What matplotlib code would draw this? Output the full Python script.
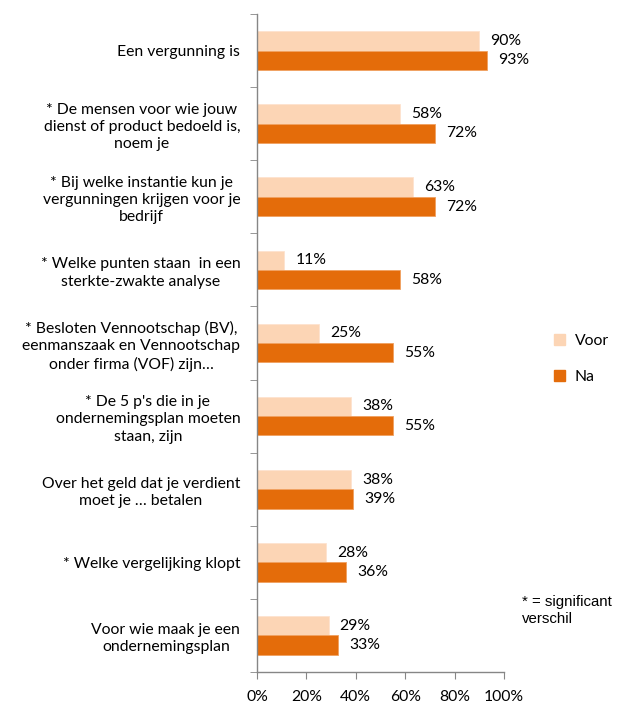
import matplotlib
matplotlib.use("Agg")
import matplotlib.pyplot as plt
import numpy as np
from matplotlib.patches import Patch

plt.rcParams['font.family'] = ['Lato', 'DejaVu Sans']

categories = [
    "Een vergunning is",
    "* De mensen voor wie jouw\ndienst of product bedoeld is,\nnoem je",
    "* Bij welke instantie kun je\nvergunningen krijgen voor je\nbedrijf",
    "* Welke punten staan  in een\nsterkte-zwakte analyse",
    "* Besloten Vennootschap (BV),\neenmanszaak en Vennootschap\nonder firma (VOF) zijn\u2026",
    "* De 5 p's die in je\nondernemingsplan moeten\nstaan, zijn",
    "Over het geld dat je verdient\nmoet je \u2026 betalen",
    "* Welke vergelijking klopt",
    "Voor wie maak je een\nondernemingsplan",
]
voor = [90, 58, 63, 11, 25, 38, 38, 28, 29]
na = [93, 72, 72, 58, 55, 55, 39, 36, 33]
series_names = ["Voor", "Na"]
xticks = [0, 20, 40, 60, 80, 100]

c_voor = "#FCD5B5"
c_na = "#E46C0A"
fs = 11.3

fig = plt.figure(figsize=(6.32, 7.04), dpi=100)
ax = fig.add_axes([0.4066, 0.0455, 0.3909, 0.9345])

y = np.arange(len(categories))
h = 0.265
ax.barh(y - h/2, voor, height=h, color=c_voor, edgecolor="#FDE3CF", linewidth=0.6)
ax.barh(y + h/2, na, height=h, color=c_na, edgecolor="#F0A060", linewidth=0.6)

for i in range(len(categories)):
    ax.annotate(f"{voor[i]}%", (voor[i], y[i] - h/2), xytext=(8, 0), textcoords="offset points",
                ha="left", va="center", fontsize=fs, color="#000000")
    ax.annotate(f"{na[i]}%", (na[i], y[i] + h/2), xytext=(8, 0), textcoords="offset points",
                ha="left", va="center", fontsize=fs, color="#000000")

ax.set_xlim(0, 100)
ax.set_ylim(len(categories) - 0.5, -0.5)
ax.set_xticks(xticks)
ax.set_xticklabels([f"{t}%" for t in xticks], fontsize=fs)
ax.set_yticks(y)
ax.set_yticklabels(categories, fontsize=fs, multialignment="center", linespacing=1.3)
ax.tick_params(axis="y", length=0, pad=12)
ax.set_yticks(np.arange(-0.5, len(categories), 1.0), minor=True)
ax.tick_params(axis="y", which="minor", length=5, color="#868686", direction="out")
ax.tick_params(axis="x", length=5, color="#868686", direction="out", pad=8)

for s in ["top", "right"]:
    ax.spines[s].set_visible(False)
for s in ["left", "bottom"]:
    ax.spines[s].set_color("#868686")
    ax.spines[s].set_linewidth(1.0)

handles = [Patch(facecolor=c_voor, edgecolor=c_voor), Patch(facecolor=c_na, edgecolor=c_na)]
fig.legend(handles, series_names, loc="center left", bbox_to_anchor=(0.855, 0.49),
           frameon=False, fontsize=fs, handlelength=0.7, handleheight=0.7,
           handletextpad=0.6, labelspacing=1.45)

fig.text(0.826, 0.133, "* = significant\nverschil", fontsize=10.8, family="Liberation Sans",
         ha="left", va="center", linespacing=1.3)

fig.savefig("out.png", dpi=100)
